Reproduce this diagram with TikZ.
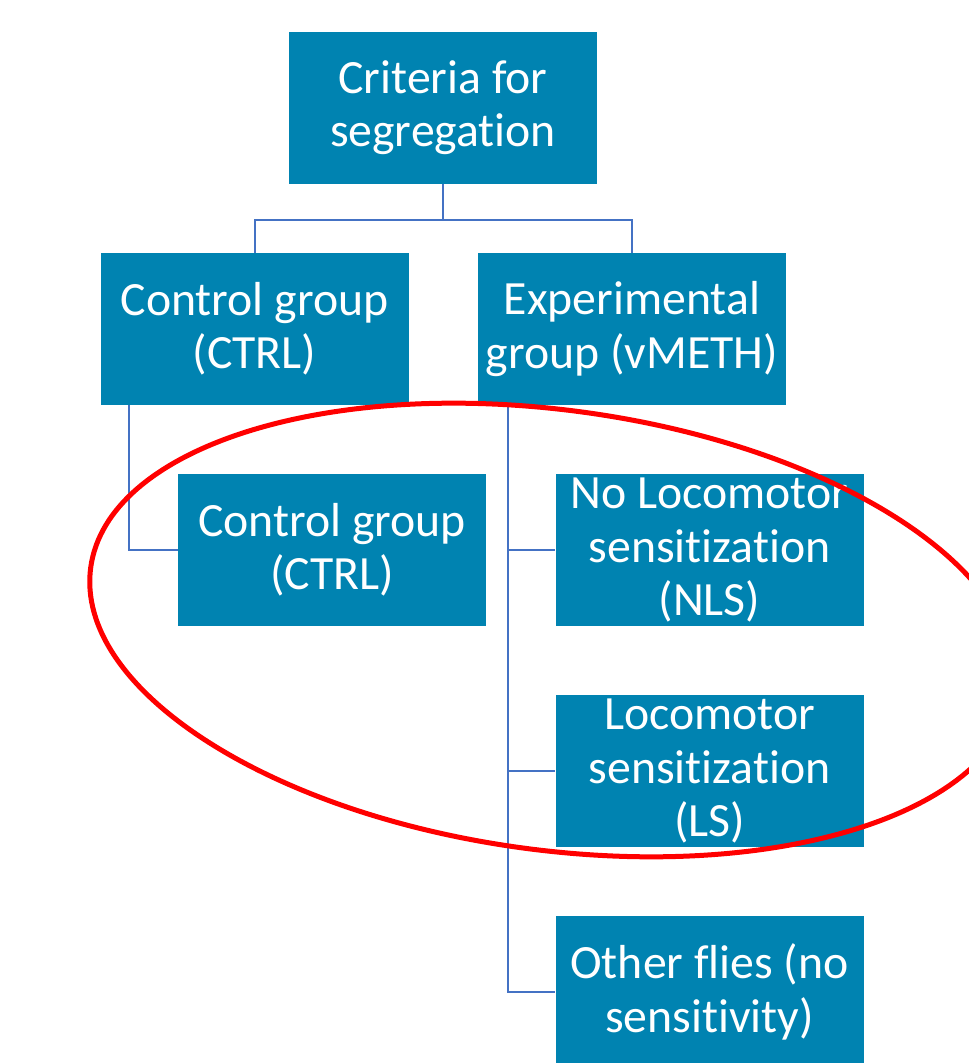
\documentclass[tikz,border=0pt]{standalone}
\usepackage{fontspec}
\setmainfont{Carlito}[Ligatures=NoCommon]
\usepackage{xcolor}
\usetikzlibrary{calc}
\definecolor{sgBox}{HTML}{0083B1}
\definecolor{sgLine}{HTML}{4472C4}
\definecolor{sgRed}{HTML}{FF0000}

\begin{document}
\begin{tikzpicture}[x=0.75pt,y=-0.75pt,
  grp/.style={fill=sgBox,text=white,minimum width=231pt,minimum height=114pt,
    inner sep=0pt,align=center,font=\fontsize{35.8}{40}\selectfont},
  lien/.style={sgLine,line width=1.5pt}]
  \clip (0,0) rectangle (969,1063);
  \useasboundingbox (0,0) rectangle (969,1063);
  % racine et premier niveau
  \node[grp] (crit) at (443,108) {Criteria for\\segregation};
  \node[grp] (ctrl) at (254.5,329) {Control group\\(CTRL)};
  \node[grp] (exp) at (632,329) {Experimental\\group (vMETH)};
  \draw[lien] (crit.south) -- ++(0,36) -| (ctrl.north);
  \draw[lien] (crit.south) -- ++(0,36) -| (exp.north);
  % sous-groupes
  \node[grp] (ctrlb) at (332,550) {Control group\\(CTRL)};
  \node[grp] (nls) at (709.5,550) {No Locomotor\\sensitization\\(NLS)};
  \node[grp] (ls) at (709.5,771) {Locomotor\\sensitization\\(LS)};
  \node[grp] (other) at (709.5,992) {Other flies (no\\sensitivity)};
  \draw[lien] ($(ctrl.south west)+(29,0)$) |- (ctrlb.west);
  \draw[lien] ($(exp.south west)+(30,0)$) |- (nls.west);
  \draw[lien] ($(exp.south west)+(30,0)$) |- (ls.west);
  \draw[lien] ($(exp.south west)+(30,0)$) |- (other.west);
  % ellipse rouge
  \coordinate (ov) at (552.5,630);
  \draw[sgRed,line width=3.75pt,rotate around={-7.7:(ov)}] (ov) ellipse [x radius=466,y radius=220];
\end{tikzpicture}
\end{document}
